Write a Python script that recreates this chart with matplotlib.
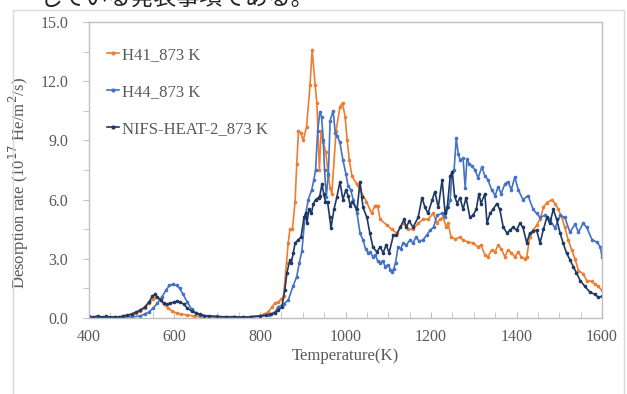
import matplotlib
matplotlib.use("Agg")
import matplotlib.pyplot as plt
from matplotlib.patches import Rectangle
from matplotlib.ticker import MultipleLocator

# ---------------- data ----------------
t_h41 = [400, 420, 440, 460, 480, 500, 510, 520, 530, 540, 550, 557, 565, 575, 585, 595, 605, 615, 630, 645,
         660, 680, 700, 720, 740, 760, 780, 800, 810, 819, 828, 835, 842, 850, 855, 862, 866, 870, 876, 882,
         886, 890, 895, 901, 909, 917, 922, 929, 933, 939, 943, 948, 954, 960, 964, 968, 978, 987, 993, 999,
         1004, 1009, 1015, 1026, 1034, 1049, 1061, 1069, 1075, 1081, 1097, 1108, 1120, 1135, 1147, 1158, 1170, 1182, 1193, 1205,
         1214, 1221, 1228, 1236, 1240, 1247, 1257, 1268, 1275, 1287, 1298, 1310, 1317, 1326, 1333, 1342, 1350, 1357, 1364, 1373,
         1380, 1388, 1396, 1404, 1411, 1419, 1424, 1431, 1439, 1447, 1455, 1463, 1471, 1483, 1490, 1498, 1506, 1513, 1521, 1529,
         1537, 1545, 1556, 1564, 1576, 1584, 1591, 1600]
v_h41 = [0.05, 0.03, 0.06, 0.04, 0.08, 0.15, 0.25, 0.35, 0.5, 0.75, 0.95, 1.05, 0.95, 0.7, 0.5, 0.35, 0.25, 0.2, 0.15, 0.1,
         0.08, 0.05, 0.04, 0.05, 0.03, 0.05, 0.06, 0.12, 0.2, 0.3, 0.55, 0.75, 0.8, 0.95, 1.1, 2.8, 3.8, 4.5, 4.5, 5.9,
         7.8, 9.5, 9.4, 9.0, 9.7, 11.8, 13.6, 11.8, 10.9, 7.5, 9.5, 8.9, 8.4, 7.2, 6.6, 6.3, 9.5, 10.7, 10.9, 10.2,
         9.0, 8.0, 7.2, 6.8, 6.5, 5.9, 5.3, 5.7, 5.7, 5.0, 4.7, 4.5, 4.3, 4.8, 4.5, 4.5, 4.8, 5.0, 5.0, 5.3,
         4.8, 5.0, 5.1, 4.6, 4.8, 4.1, 4.0, 4.1, 3.95, 3.85, 3.8, 3.6, 3.7, 3.2, 3.1, 3.45, 3.35, 3.7, 3.5, 3.1,
         3.45, 3.3, 3.1, 3.35, 3.1, 3.0, 3.1, 4.1, 4.45, 4.7, 5.0, 5.6, 5.85, 6.0, 5.8, 5.5, 5.1, 4.6, 3.95, 3.45,
         3.0, 2.4, 2.25, 1.9, 1.85, 1.7, 1.6, 1.4]

t_h44 = [400, 420, 440, 460, 480, 500, 520, 530, 540, 550, 560, 570, 580, 588, 596, 605, 612, 620, 630, 640,
         650, 660, 680, 700, 720, 740, 760, 780, 800, 820, 835, 842, 855, 866, 877, 886, 892, 898, 905, 913,
         921, 926, 930, 935, 940, 944, 948, 951, 955, 960, 964, 971, 976, 981, 987, 994, 1001, 1006, 1012, 1018,
         1027, 1034, 1041, 1047, 1053, 1058, 1064, 1070, 1075, 1081, 1087, 1093, 1100, 1105, 1109, 1113, 1117, 1123, 1129, 1135,
         1142, 1151, 1158, 1165, 1172, 1181, 1190, 1198, 1206, 1214, 1225, 1233, 1240, 1245, 1249, 1254, 1259, 1264, 1268, 1275,
         1280, 1284, 1290, 1296, 1303, 1310, 1319, 1326, 1333, 1342, 1350, 1357, 1364, 1373, 1380, 1388, 1396, 1404, 1415, 1427,
         1439, 1447, 1455, 1466, 1478, 1490, 1502, 1513, 1525, 1537, 1545, 1556, 1564, 1577, 1588, 1596, 1600]
v_h44 = [0.05, 0.04, 0.05, 0.03, 0.05, 0.06, 0.1, 0.2, 0.3, 0.5, 0.75, 1.05, 1.4, 1.65, 1.7, 1.65, 1.5, 1.2, 0.8, 0.45,
         0.25, 0.15, 0.1, 0.08, 0.06, 0.07, 0.05, 0.06, 0.08, 0.15, 0.3, 0.55, 0.7, 0.9, 1.6, 2.1, 2.8, 3.4, 5.1, 6.0,
         6.5, 7.0, 7.5, 9.5, 10.45, 10.2, 9.0, 7.5, 6.15, 7.3, 10.0, 10.5, 9.4, 9.2, 8.9, 8.0, 7.3, 6.7, 6.5, 6.0,
         5.3, 4.3, 3.95, 3.5, 3.3, 3.35, 3.1, 3.2, 2.9, 2.8, 2.9, 2.6, 2.7, 2.45, 2.35, 2.5, 2.8, 3.6, 3.5, 3.8,
         3.7, 3.95, 3.8, 4.1, 3.9, 3.95, 4.2, 4.45, 4.6, 5.2, 5.3, 5.1, 5.6, 6.0, 7.4, 7.5, 9.1, 8.3, 8.0, 8.1,
         6.6, 8.05, 7.8, 7.7, 7.5, 7.1, 7.65, 7.2, 7.0, 6.5, 6.2, 6.65, 6.3, 6.8, 6.9, 6.5, 7.15, 6.5, 6.0, 6.2,
         5.5, 5.3, 5.1, 5.2, 5.0, 4.55, 5.2, 5.1, 4.35, 4.75, 4.35, 4.8, 4.6, 3.95, 3.85, 3.6, 3.1]

t_nifs = [400, 410, 420, 430, 440, 450, 460, 470, 480, 490, 500, 510, 520, 530, 540, 548, 554, 560, 568, 575,
          582, 590, 598, 606, 614, 622, 630, 640, 650, 660, 670, 680, 700, 720, 740, 760, 780, 800, 815, 825,
          835, 843, 851, 858, 863, 870, 873, 878, 882, 889, 896, 903, 907, 910, 914, 920, 925, 930, 937, 940,
          945, 949, 953, 958, 963, 966, 973, 980, 987, 994, 1001, 1006, 1011, 1016, 1027, 1034, 1038, 1041, 1050, 1057,
          1064, 1073, 1081, 1088, 1095, 1102, 1112, 1119, 1128, 1137, 1142, 1149, 1158, 1170, 1179, 1186, 1193, 1203, 1209, 1217,
          1226, 1233, 1238, 1245, 1250, 1255, 1261, 1268, 1275, 1282, 1291, 1298, 1306, 1312, 1317, 1326, 1331, 1338, 1345, 1354,
          1361, 1369, 1378, 1385, 1392, 1400, 1408, 1415, 1424, 1431, 1439, 1447, 1455, 1463, 1471, 1478, 1486, 1494, 1502, 1509,
          1517, 1525, 1533, 1540, 1549, 1560, 1572, 1584, 1591, 1600]
v_nifs = [0.08, 0.05, 0.1, 0.05, 0.08, 0.04, 0.06, 0.05, 0.1, 0.15, 0.2, 0.3, 0.4, 0.55, 0.8, 1.1, 1.2, 1.05, 0.9, 0.75,
          0.7, 0.75, 0.8, 0.85, 0.8, 0.7, 0.5, 0.35, 0.25, 0.18, 0.12, 0.1, 0.07, 0.05, 0.06, 0.04, 0.07, 0.1, 0.15, 0.2,
          0.25, 0.4, 0.55, 1.4, 2.3, 2.95, 2.8, 3.3, 3.8, 3.95, 4.1, 5.1, 5.3, 4.8, 5.5, 5.3, 5.8, 6.0, 6.1, 6.2,
          6.8, 6.3, 5.9, 5.9, 5.1, 4.55, 5.5, 6.15, 6.9, 6.0, 6.5, 6.2, 5.7, 5.9, 5.5, 6.9, 6.15, 5.6, 5.1, 4.3,
          3.6, 3.35, 3.6, 3.3, 3.7, 3.3, 4.2, 4.2, 4.6, 5.0, 4.6, 4.9, 4.6, 5.1, 6.1, 5.6, 5.3, 6.0, 6.4, 5.6,
          7.0, 5.3, 5.6, 7.2, 7.4, 6.2, 5.8, 6.1, 5.5, 6.1, 5.1, 5.2, 5.5, 6.3, 5.8, 6.3, 4.8, 5.3, 5.5, 5.8,
          5.5, 4.6, 4.3, 4.45, 4.6, 4.45, 4.8, 4.6, 3.8, 4.3, 4.4, 4.45, 3.8, 4.5, 5.1, 4.8, 5.5, 5.0, 4.3, 3.8,
          3.3, 2.95, 2.6, 2.3, 1.9, 1.6, 1.3, 1.2, 1.05, 1.1]

labels = ["H41_873 K", "H44_873 K", "NIFS-HEAT-2_873 K"]
colors = ["#ED7D31", "#4472C4", "#1F3864"]
x_ticks = [400, 600, 800, 1000, 1200, 1400, 1600]
y_ticks = [0.0, 3.0, 6.0, 9.0, 12.0, 15.0]

# ---------------- figure ----------------
plt.rcParams['font.family'] = ['Liberation Serif', 'DejaVu Serif']
W, H = 627, 394
fig = plt.figure(figsize=(W / 100, H / 100), dpi=100)
fig.patch.set_facecolor("white")

# outer chart-area border (Excel style)
fig.patches.append(Rectangle((13 / W, -0.05), (624 - 13) / W, 1.05 - 10 / H,
                             transform=fig.transFigure, fill=False,
                             edgecolor="#D9D9D9", linewidth=1.0))

# document text above the chart (cropped at the top edge in the reference)
fig.text(40 / W, 1 - 5 / H, "している発表事項である。", fontsize=16.5,
         family=['Noto Sans CJK JP', 'DejaVu Sans'], color="#222222",
         ha="left", va="baseline")

ax = fig.add_axes([89 / W, 1 - 318 / H, (602 - 89) / W, (318 - 22) / H])

series = [(t_h41, v_h41), (t_h44, v_h44), (t_nifs, v_nifs)]
for (t, v), lab, c in zip(series, labels, colors):
    ax.plot(t, v, color=c, lw=1.2, marker="o", markersize=1.6, label=lab)

ax.set_xlim(400, 1600)
ax.set_ylim(0, 15)
ax.set_xticks(x_ticks)
ax.set_yticks(y_ticks)
ax.set_yticklabels([f"{y:.1f}" for y in y_ticks])
ax.xaxis.set_minor_locator(MultipleLocator(50))
ax.yaxis.set_minor_locator(MultipleLocator(1.5))

for s in ax.spines.values():
    s.set_color("#BFBFBF")
    s.set_linewidth(1.0)

ax.tick_params(axis="x", which="major", direction="in", length=4, color="#BFBFBF",
               labelsize=11.5, labelcolor="#595959", pad=8)
ax.tick_params(axis="x", which="minor", direction="in", length=4, color="#BFBFBF")
ax.tick_params(axis="y", which="major", direction="out", length=4, color="#BFBFBF",
               labelsize=11.5, labelcolor="#595959", pad=11)
ax.tick_params(axis="y", which="minor", direction="out", length=4, color="#BFBFBF")

ax.set_xlabel("Temperature(K)", fontsize=12, color="#595959", labelpad=2)
ax.set_ylabel("Desorption rate (10$^{17}$ He/m$^{2}$/s)", fontsize=12, color="#595959")
ax.yaxis.set_label_coords(-0.113, 0.455)

leg = ax.legend(loc="upper left", bbox_to_anchor=(0.013, 0.955), frameon=False,
                fontsize=12, labelcolor="#595959", handlelength=0.7,
                handletextpad=0.15, labelspacing=1.25, borderaxespad=0.3)
for h in leg.legend_handles:
    h.set_markersize(2)

fig.savefig("out.png", dpi=100, facecolor="white")
